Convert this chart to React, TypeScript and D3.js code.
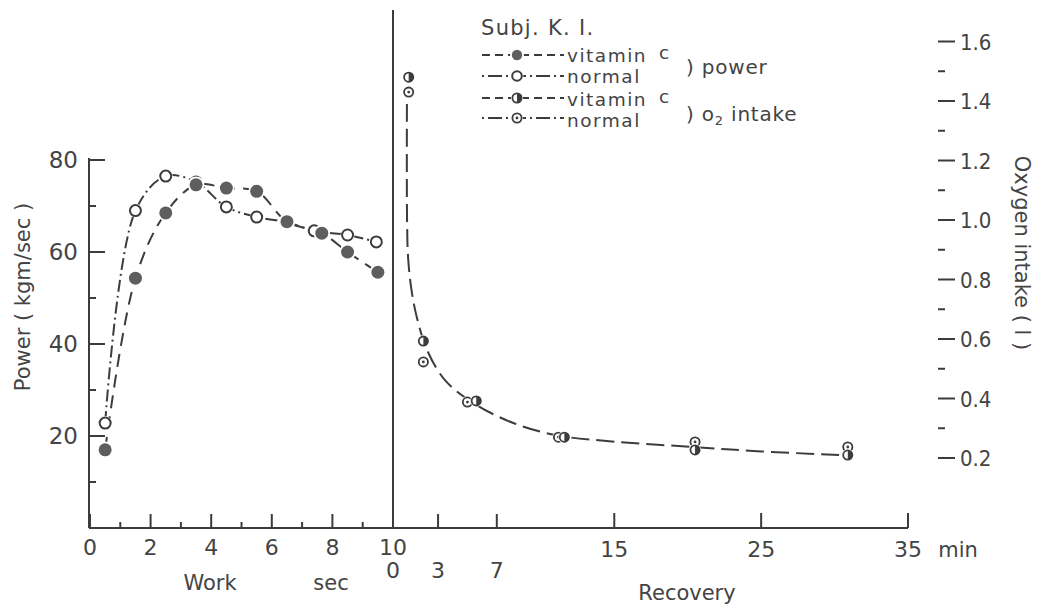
import React from "react";
import * as d3 from "d3";

// ---------- data ----------
const workTicksMajor = [0, 2, 4, 6, 8, 10];
const workTicksMinor = [1, 3, 5, 7, 9];
const recTickLabelsLow = [0, 3, 7];
const recTickLabelsHigh = [15, 25, 35];
const powerTicksMajor = [20, 40, 60, 80];
const powerTicksMinor = [10, 30, 50, 70];
const o2TicksMajor = [0.2, 0.4, 0.6, 0.8, 1.0, 1.2, 1.4, 1.6];
const o2TicksMinor = [0.3, 0.5, 0.7, 0.9, 1.1, 1.3, 1.5];

const vitWorkSec = [0.5, 1.5, 2.5, 3.5, 4.5, 5.5, 6.5, 7.65, 8.5, 9.5];
const vitPower = [17, 54.3, 68.5, 74.6, 73.9, 73.2, 66.6, 64.1, 60, 55.6];
const normWorkSec = [0.5, 1.5, 2.5, 3.5, 4.5, 5.5, 6.5, 7.4, 8.5, 9.45];
const normPower = [22.8, 69, 76.5, 75.2, 69.8, 67.6, 66.5, 64.6, 63.7, 62.2];

const vitRecMin = [1, 2, 5.6, 11.6, 20.5, 30.9];
const vitO2 = [1.48, 0.593, 0.392, 0.27, 0.227, 0.21];
const normRecMin = [1, 2, 5.0, 11.2, 20.5, 30.9];
const normO2 = [1.43, 0.523, 0.388, 0.27, 0.254, 0.237];

// fitted recovery curve (drawn by hand in the original)
const fitRecMin = [0.88, 0.89, 0.97, 1.22, 1.57, 2.25, 3.5, 5.4, 8, 11, 15, 20.4, 25, 30.5];
const fitO2 = [1.39, 1.0, 0.866, 0.755, 0.67, 0.563, 0.46, 0.385, 0.32, 0.277, 0.255, 0.237, 0.222, 0.21];

// ---------- styling ----------
const INK = "#3c3c3c";
const TXT = "#444";
const FILL = "#5e5e5e";
const FONT = "'DejaVu Sans', 'Open Sans', sans-serif";
const NARROW = "'Liberation Sans Narrow', 'DejaVu Sans Condensed', 'Liberation Sans', sans-serif";

const xWork = d3.scaleLinear().domain([0, 10]).range([90, 393]);
const xRec = d3.scaleLinear().domain([0, 35]).range([394, 908]);
const yPow = d3.scaleLinear().domain([0, 80]).range([528, 160]);
const yO2 = d3.scaleLinear().domain([0.2, 1.6]).range([458, 41.5]);

const AXIS_Y = 528;
const AXIS_X = 89;

function FilledDot({ x, y, r = 6.5 }: { x: number; y: number; r?: number }) {
  return (
    <g>
      <circle cx={x} cy={y} r={r + 1.8} fill="#fff" />
      <circle cx={x} cy={y} r={r} fill={FILL} />
    </g>
  );
}
function OpenDot({ x, y, r = 5.5 }: { x: number; y: number; r?: number }) {
  return (
    <g>
      <circle cx={x} cy={y} r={r + 1.5} fill="#fff" />
      <circle cx={x} cy={y} r={r} fill="#fff" stroke={INK} strokeWidth={2} />
    </g>
  );
}
function HalfDot({ x, y, r = 4.6 }: { x: number; y: number; r?: number }) {
  return (
    <g>
      <circle cx={x} cy={y} r={r + 1.5} fill="#fff" />
      <circle cx={x} cy={y} r={r} fill="#fff" stroke={INK} strokeWidth={1.8} />
      <path d={`M${x},${y - r} A${r},${r} 0 0 1 ${x},${y + r} Z`} fill={INK} />
    </g>
  );
}
function CenterDot({ x, y, r = 4.6 }: { x: number; y: number; r?: number }) {
  return (
    <g>
      <circle cx={x} cy={y} r={r + 1.5} fill="#fff" />
      <circle cx={x} cy={y} r={r} fill="#fff" stroke={INK} strokeWidth={1.8} />
      <circle cx={x} cy={y} r={1.4} fill={INK} />
    </g>
  );
}

export default function App() {
  const lineVit = d3
    .line<number>()
    .x((_, i) => xWork(vitWorkSec[i]))
    .y((d) => yPow(d))
    .curve(d3.curveCatmullRom.alpha(0.5));
  const lineNorm = d3
    .line<number>()
    .x((_, i) => xWork(normWorkSec[i]))
    .y((d) => yPow(d))
    .curve(d3.curveCatmullRom.alpha(0.5));
  const lineFit = d3
    .line<number>()
    .x((_, i) => xRec(fitRecMin[i]))
    .y((d) => yO2(d))
    .curve(d3.curveCatmullRom.alpha(0.5));

  const legendRows = [
    { y: 55, label: "vitamin", c: true, dash: "8,5", kind: "filled", tb: 62 },
    { y: 76, label: "normal", c: false, dash: "2,4,14,4", kind: "open", tb: 83 },
    { y: 98, label: "vitamin", c: true, dash: "8,5", kind: "half", tb: 106 },
    { y: 118, label: "normal", c: false, dash: "2,4,14,4", kind: "center", tb: 127 },
  ];

  return (
    <svg
      width={1042}
      height={616}
      style={{ position: "absolute", left: 0, top: 0, background: "#fff" }}
      fontFamily={FONT}
    >
      {/* left axis */}
      <line x1={AXIS_X} y1={yPow(80) - 2} x2={AXIS_X} y2={AXIS_Y} stroke={INK} strokeWidth={2} />
      {powerTicksMajor.map((v) => (
        <g key={"pm" + v}>
          <line x1={AXIS_X} x2={AXIS_X + 16} y1={yPow(v)} y2={yPow(v)} stroke={INK} strokeWidth={2} />
          <text x={78} y={yPow(v) + 8} textAnchor="end" fontSize={23} fill={TXT}>
            {v}
          </text>
        </g>
      ))}
      {powerTicksMinor.map((v) => (
        <line key={"pn" + v} x1={AXIS_X} x2={AXIS_X + 7} y1={yPow(v)} y2={yPow(v)} stroke={INK} strokeWidth={2} />
      ))}
      <text
        transform={`translate(30,297) rotate(-90)`}
        textAnchor="middle"
        fontSize={21}
        fill={TXT}
      >
        Power ( kgm/sec )
      </text>

      {/* bottom axis */}
      <line x1={AXIS_X} x2={xRec(35)} y1={AXIS_Y} y2={AXIS_Y} stroke={INK} strokeWidth={2} />
      {workTicksMajor.map((v) => (
        <g key={"wm" + v}>
          <line x1={xWork(v)} x2={xWork(v)} y1={AXIS_Y} y2={AXIS_Y - 14} stroke={INK} strokeWidth={2} />
          <text x={xWork(v)} y={555} textAnchor="middle" fontSize={22} fill={TXT}>
            {v}
          </text>
        </g>
      ))}
      {workTicksMinor.map((v) => (
        <line key={"wn" + v} x1={xWork(v)} x2={xWork(v)} y1={AXIS_Y} y2={AXIS_Y - 6} stroke={INK} strokeWidth={2} />
      ))}
      <text x={210} y={590} textAnchor="middle" fontSize={21} fill={TXT}>
        Work
      </text>
      <text x={331} y={590} textAnchor="middle" fontSize={21} fill={TXT}>
        sec
      </text>
      {recTickLabelsLow.map((v) => (
        <g key={"rl" + v}>
          {v > 0 && (
            <line x1={xRec(v)} x2={xRec(v)} y1={AXIS_Y} y2={AXIS_Y - 14} stroke={INK} strokeWidth={2} />
          )}
          <text x={v === 0 ? 393 : xRec(v)} y={578} textAnchor="middle" fontSize={22} fill={TXT}>
            {v}
          </text>
        </g>
      ))}
      {recTickLabelsHigh.map((v) => (
        <g key={"rh" + v}>
          <line x1={xRec(v)} x2={xRec(v)} y1={AXIS_Y} y2={AXIS_Y - 15} stroke={INK} strokeWidth={2} />
          <text x={xRec(v)} y={557} textAnchor="middle" fontSize={22} fill={TXT}>
            {v}
          </text>
        </g>
      ))}
      <text x={958} y={557} textAnchor="middle" fontSize={21} fill={TXT}>
        min
      </text>
      <text x={687} y={600} textAnchor="middle" fontSize={21} fill={TXT}>
        Recovery
      </text>

      {/* divider */}
      <line x1={393} x2={393} y1={10} y2={AXIS_Y} stroke={INK} strokeWidth={2} />

      {/* right axis (oxygen) */}
      {o2TicksMajor.map((v) => (
        <g key={"om" + v}>
          <line x1={938} x2={955} y1={yO2(v)} y2={yO2(v)} stroke={INK} strokeWidth={2} />
          <text x={960} y={yO2(v) + 8} fontSize={22} fill={TXT} fontFamily={NARROW}>
            {v.toFixed(1)}
          </text>
        </g>
      ))}
      {o2TicksMinor.map((v) => (
        <line key={"on" + v} x1={938} x2={945} y1={yO2(v)} y2={yO2(v)} stroke={INK} strokeWidth={2} />
      ))}
      <text
        transform={`translate(1015,253) rotate(90)`}
        textAnchor="middle"
        fontSize={21}
        fill={TXT}
      >
        Oxygen  intake ( l )
      </text>

      {/* power curves */}
      <path d={lineNorm(normPower) || ""} fill="none" stroke={INK} strokeWidth={2} strokeDasharray="12,4,2,4" />
      <path d={lineVit(vitPower) || ""} fill="none" stroke={INK} strokeWidth={2} strokeDasharray="13,8" />
      {normPower.map((v, i) => (
        <OpenDot key={"np" + i} x={xWork(normWorkSec[i])} y={yPow(v)} />
      ))}
      {vitPower.map((v, i) => (
        <FilledDot key={"vp" + i} x={xWork(vitWorkSec[i])} y={yPow(v)} />
      ))}

      {/* oxygen curve */}
      <path d={lineFit(fitO2) || ""} fill="none" stroke={INK} strokeWidth={2} strokeDasharray="18,7" />
      {normO2.map((v, i) => (
        <CenterDot key={"no" + i} x={xRec(normRecMin[i])} y={yO2(v)} />
      ))}
      {vitO2.map((v, i) => (
        <HalfDot key={"vo" + i} x={xRec(vitRecMin[i])} y={yO2(v)} />
      ))}

      {/* legend */}
      <text x={481} y={35} fontSize={21} fill={TXT} letterSpacing={1.3}>
        Subj. K. I.
      </text>
      {legendRows.map((r, i) => (
        <g key={"lg" + i}>
          <line x1={482} x2={564} y1={r.y} y2={r.y} stroke={INK} strokeWidth={2} strokeDasharray={r.dash} />
          {r.kind === "filled" && <FilledDot x={517} y={r.y} r={5.2} />}
          {r.kind === "open" && <OpenDot x={517} y={r.y} r={4.8} />}
          {r.kind === "half" && <HalfDot x={517} y={r.y} />}
          {r.kind === "center" && <CenterDot x={517} y={r.y} />}
          <text x={567} y={r.tb} fontSize={18.5} fill={TXT} letterSpacing={1.5}>
            {r.label}
          </text>
          {r.c && (
            <text x={659} y={r.tb - 3} fontSize={18.5} fill={TXT}>
              c
            </text>
          )}
        </g>
      ))}
      <text x={686} y={74} fontSize={20} fill={TXT} letterSpacing={0.8}>
        ) power
      </text>
      <text x={686} y={121} fontSize={20} fill={TXT} letterSpacing={0.8}>
        ) o<tspan fontSize={13} dy={4}>2</tspan>
        <tspan dy={-4}> intake</tspan>
      </text>
    </svg>
  );
}
